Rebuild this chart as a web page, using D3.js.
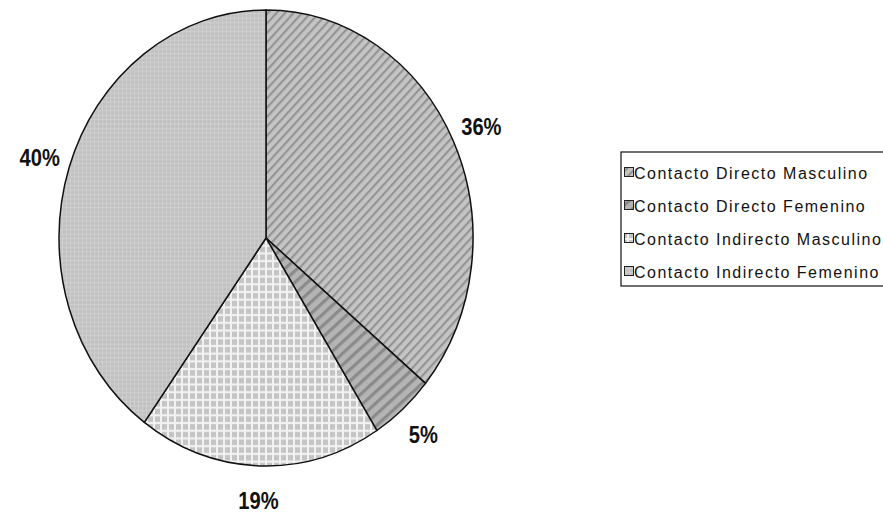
<!DOCTYPE html>
<html>
<head>
<meta charset="utf-8">
<script src="https://cdn.jsdelivr.net/npm/d3@7"></script>
<style>
body { margin: 0; background: #fff; }
svg { display: block; }
.pct { font-family: "Liberation Sans", Arial, sans-serif; font-weight: bold; font-size: 24px; fill: #111; }
.leg { font-family: "Liberation Sans", Arial, sans-serif; font-size: 16px; fill: #111; }
</style>
</head>
<body>
<script>
(function(){

// chart data
var categories = ["Contacto Directo Masculino", "Contacto Directo Femenino", "Contacto Indirecto Masculino", "Contacto Indirecto Femenino"];
var values = [36, 5, 19, 40];
var labels = ["36%", "5%", "19%", "40%"];

window.onload = drawChart();

function drawChart(){
    var width = 883, height = 513;
    var cx = 266, cy = 238, rx = 207, ry = 228;

    var svg = d3.select("body").append("svg")
        .attr("width", width)
        .attr("height", height);

    var defs = svg.append("defs");

    //upward diagonal stripes
    var p1 = defs.append("pattern").attr("id", "pat0")
        .attr("width", 6).attr("height", 6)
        .attr("patternUnits", "userSpaceOnUse")
        .attr("patternTransform", "rotate(-45)");
    p1.append("rect").attr("width", 6).attr("height", 6).attr("fill", "#c4c4c4");
    p1.append("rect").attr("width", 6).attr("height", 2).attr("fill", "#939393");

    //wide darker stripes
    var p2 = defs.append("pattern").attr("id", "pat1")
        .attr("width", 8).attr("height", 8)
        .attr("patternUnits", "userSpaceOnUse")
        .attr("patternTransform", "rotate(-40)");
    p2.append("rect").attr("width", 8).attr("height", 8).attr("fill", "#b4b4b4");
    p2.append("rect").attr("width", 8).attr("height", 3).attr("fill", "#8a8a8a");

    //light grid
    var p3 = defs.append("pattern").attr("id", "pat2")
        .attr("width", 7).attr("height", 7)
        .attr("patternUnits", "userSpaceOnUse");
    p3.append("rect").attr("width", 7).attr("height", 7).attr("fill", "#f2f2f2");
    p3.append("rect").attr("x", 1).attr("y", 1).attr("width", 5).attr("height", 5).attr("fill", "#c4c4c4");

    //fine checker
    var p4 = defs.append("pattern").attr("id", "pat3")
        .attr("width", 4).attr("height", 4)
        .attr("patternUnits", "userSpaceOnUse");
    p4.append("rect").attr("width", 4).attr("height", 4).attr("fill", "#c1c1c1");
    p4.append("rect").attr("width", 4).attr("height", 1).attr("fill", "#cecece");
    p4.append("rect").attr("width", 1).attr("height", 4).attr("fill", "#cecece");

    var pie = d3.pie().sort(null).value(function(d){ return d; });
    var arcs = pie(values);

    var arc = d3.arc().innerRadius(0).outerRadius(rx);

    //pie is an ellipse: draw circle then stretch vertically
    var g = svg.append("g")
        .attr("transform", "translate(" + cx + "," + cy + ") scale(1," + (ry / rx) + ")");

    g.selectAll(".slice")
        .data(arcs)
        .enter()
        .append("path")
        .attr("class", "slice")
        .attr("d", arc)
        .attr("fill", function(d, i){ return "url(#pat" + i + ")"; })
        .attr("stroke", "#111")
        .attr("stroke-width", 1.5)
        .attr("stroke-linejoin", "round")
        .attr("vector-effect", "non-scaling-stroke");

    //percentage labels outside, narrowed like the original font
    var labelArc = d3.arc().innerRadius(238).outerRadius(238);
    svg.selectAll(".pct")
        .data(arcs)
        .enter()
        .append("text")
        .attr("class", "pct")
        .attr("transform", function(d){
            var c = labelArc.centroid(d);
            return "translate(" + (cx + c[0]) + "," + (cy + c[1] * ry / rx) + ") scale(0.84,1)";
        })
        .attr("text-anchor", "middle")
        .attr("dy", "0.36em")
        .text(function(d, i){ return labels[i]; });

    //legend
    var legend = svg.append("g").attr("transform", "translate(621,152)");
    legend.append("rect")
        .attr("width", 280).attr("height", 134)
        .attr("fill", "#fff")
        .attr("stroke", "#111")
        .attr("stroke-width", 1.2);

    var items = legend.selectAll(".item")
        .data(categories)
        .enter()
        .append("g")
        .attr("class", "item")
        .attr("transform", function(d, i){ return "translate(0," + (21 + i * 33) + ")"; });

    items.append("rect")
        .attr("x", 3.5).attr("y", -5.5)
        .attr("width", 9).attr("height", 9)
        .attr("fill", function(d, i){ return "url(#pat" + i + ")"; })
        .attr("stroke", "#222")
        .attr("stroke-width", 1);

    items.append("text")
        .attr("class", "leg")
        .attr("x", 13)
        .attr("y", 0)
        .attr("dy", "0.36em")
        .attr("letter-spacing", "1.5px")
        .text(function(d){ return d; });
};

})();
</script>
</body>
</html>
